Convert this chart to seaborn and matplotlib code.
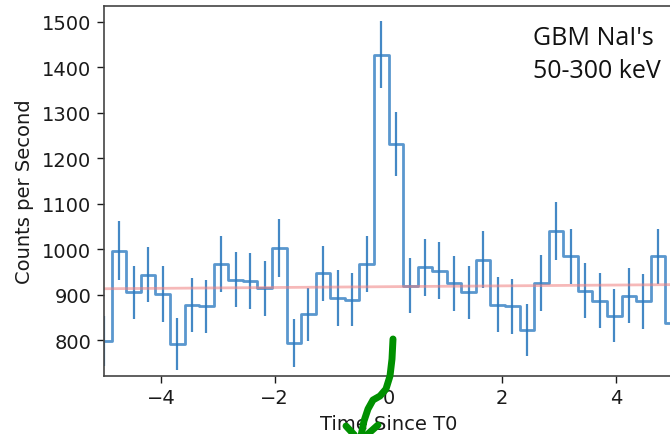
import numpy as np
import seaborn as sns
import matplotlib.pyplot as plt
from matplotlib.lines import Line2D

# 0.256 s bins, left edges from -5.12 to 4.864
bin_width = 0.256
bin_index = list(range(-20, 20))
rates = [798, 997, 905, 944, 901, 791, 877, 874, 968, 933,
         930, 914, 1003, 794, 857, 947, 893, 889, 968, 1428,
         1232, 920, 960, 953, 925, 905, 977, 878, 874, 822,
         925, 1040, 984, 909, 887, 854, 898, 885, 984, 838]
errors = [55, 64, 59, 61, 61, 57, 60, 59, 62, 61,
          61, 60, 64, 53, 58, 61, 61, 59, 62, 74,
          70, 60, 62, 62, 61, 59, 62, 61, 60, 57,
          62, 64, 61, 60, 61, 59, 60, 61, 61, 57]
bkg_times = [-5.0, 5.0]
bkg_rates = [913, 922]

sns.set_style("ticks")
plt.rcParams["font.family"] = ["DejaVu Sans"]

fig = plt.figure(figsize=(6.7, 4.35), dpi=100)
ax = fig.add_axes([104 / 670, 1 - 377 / 435, 569 / 670, 370 / 435])

left_edges = np.array(bin_index) * bin_width
step_x = np.append(left_edges, left_edges[-1] + bin_width)
step_y = np.append(rates, rates[-1])
centers = left_edges + bin_width / 2

sns.lineplot(x=step_x, y=step_y, drawstyle="steps-post", color="#3d85c6",
             lw=2.0, alpha=0.85, ax=ax, sort=False)
ax.errorbar(centers, rates, yerr=errors, fmt="none", ecolor="#2f7bbf",
            elinewidth=1.6, alpha=0.9)
sns.lineplot(x=bkg_times, y=bkg_rates, color="#f08080", lw=2, alpha=0.55, ax=ax)

ax.set_xlim(-5, 5)
ax.set_ylim(721, 1535)
ax.set_xticks([-4, -2, 0, 2, 4])
ax.set_xticklabels(["\u22124", "\u22122", "0", "2", "4"])
ax.set_yticks(range(800, 1501, 100))
ax.tick_params(labelsize=14, length=5, width=1, pad=4, colors="#1a1a1a")
for sp in ax.spines.values():
    sp.set_color("#444444")
    sp.set_linewidth(1.2)
ax.set_xlabel("Time Since T0", fontsize=14, labelpad=4.5, color="#1a1a1a")
ax.set_ylabel("Counts per Second", fontsize=14, labelpad=6, color="#1a1a1a")

fig.text(533 / 670, 1 - 26 / 435, "GBM NaI's\n50-300 keV", fontsize=18,
         family=["Open Sans", "DejaVu Sans"], va="top", ha="left",
         linespacing=1.4, color="#111111")

# hand-drawn green arrow
def px(xs, ys):
    return [x / 670 for x in xs], [1 - y / 435 for y in ys]

green = "#009000"
sx, sy = px([393, 392, 390, 386, 380, 373, 368, 364, 361],
            [340, 360, 377, 390, 397, 401, 410, 422, 437])
fig.add_artist(Line2D(sx, sy, color=green, lw=5, solid_capstyle="round",
                      solid_joinstyle="round"))
hx, hy = px([346, 360, 378], [427, 442, 426])
fig.add_artist(Line2D(hx, hy, color=green, lw=5, solid_capstyle="round",
                      solid_joinstyle="round"))

fig.savefig("out.png", dpi=100)
